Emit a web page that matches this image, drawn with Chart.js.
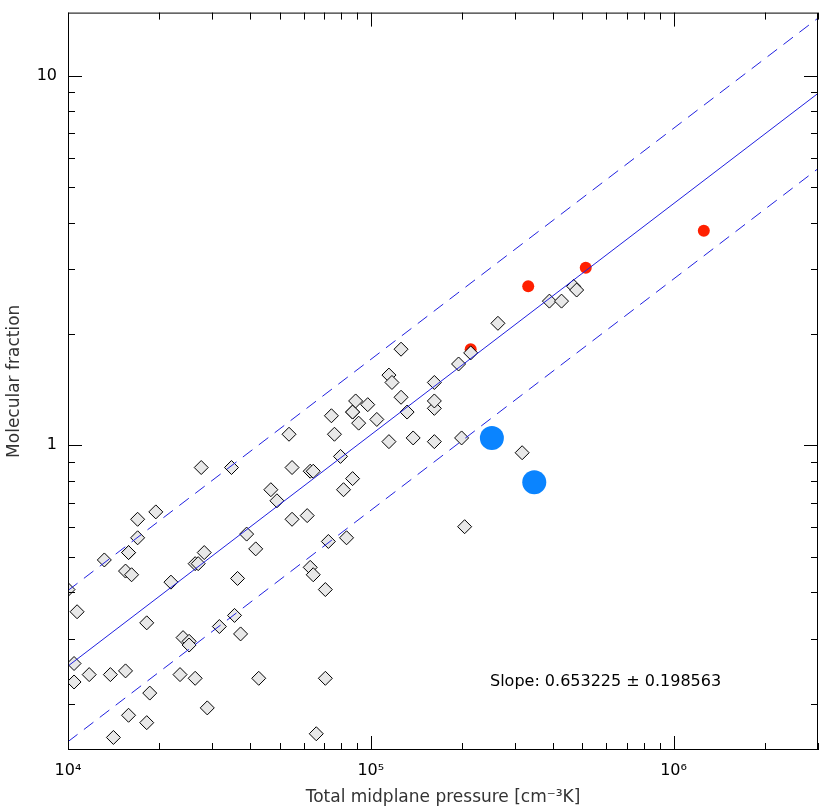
<!DOCTYPE html>
<html><head><meta charset="utf-8">
<script src="https://cdn.jsdelivr.net/npm/chart.js@4"></script>
<style>html,body{margin:0;background:#fff}</style>
</head><body>
<canvas id="c" width="830" height="812"></canvas>
<script>
// log10 of pressure / molecular fraction
const logP = [4.00,4.03,4.02,4.02,4.07,4.12,4.14,4.15,4.19,4.20,4.19,4.20,4.20,4.21,4.23,4.23,4.26,4.26,4.27,4.29,4.34,4.37,4.38,4.40,4.40,4.42,4.42,4.43,4.44,4.45,4.46,4.50,4.54,4.55,4.56,4.57,4.59,4.62,4.63,4.67,4.69,4.73,4.74,4.74,4.79,4.80,4.80,4.81,4.81,4.82,4.85,4.85,4.86,4.87,4.88,4.90,4.91,4.92,4.94,4.94,4.94,4.95,4.96,4.99,5.02,5.06,5.06,5.07,5.10,5.10,5.12,5.14,5.21,5.21,5.21,5.21,5.29,5.30,5.31,5.33,5.42,5.50,5.59,5.63,5.67,5.68];
const logF = [-0.39,-0.45,-0.59,-0.64,-0.62,-0.31,-0.62,-0.79,-0.61,-0.73,-0.34,-0.29,-0.29,-0.35,-0.25,-0.20,-0.75,-0.48,-0.67,-0.18,-0.37,-0.62,-0.52,-0.53,-0.54,-0.32,-0.63,-0.32,-0.06,-0.29,-0.71,-0.49,-0.06,-0.46,-0.36,-0.51,-0.24,-0.28,-0.63,-0.12,-0.15,0.03,-0.20,-0.06,-0.19,-0.33,-0.07,-0.35,-0.07,-0.78,-0.39,-0.63,-0.26,0.08,0.03,-0.03,-0.12,-0.25,-0.09,0.09,0.09,0.12,0.06,0.11,0.07,0.01,0.19,0.17,0.13,0.26,0.09,0.02,0.10,0.12,0.17,0.01,0.22,0.02,-0.22,0.25,0.33,-0.02,0.39,0.39,0.43,0.42];
const redP = [5.33,5.52,5.71,6.10], redF = [0.26,0.43,0.48,0.58];
const blueP = [5.40,5.54], blueF = [0.02,-0.10];
const fitX = [1e4, 3e6], fitY = [0.253, 8.95], fitUp = [0.405, 14.3], fitLo = [0.158, 5.6];
const slopeText = 'Slope: 0.653225 \u00b1 0.198563';

const pts = (a,b,lg) => a.map((v,i)=>({x: lg?10**v:v, y: lg?10**b[i]:b[i]}));
const sup = {4:'\u2074',5:'\u2075',6:'\u2076'};

const ticksIn = {
  id:'ticksIn',
  afterDraw(ch){
    const {ctx, chartArea:a, scales:{x,y}} = ch;
    ctx.save(); ctx.strokeStyle='#000'; ctx.lineWidth=1;
    ctx.strokeRect(a.left+0.5,a.top+0.5,a.right-a.left-1,a.bottom-a.top-1);
    ctx.beginPath();
    for(let e=4;e<=6;e++) for(let m=1;m<10;m++){
      const v=m*10**e; if(v>3e6) continue;
      const px=Math.round(x.getPixelForValue(v))+0.5, L=m==1?14:7;
      ctx.moveTo(px,a.bottom); ctx.lineTo(px,a.bottom-L);
      ctx.moveTo(px,a.top); ctx.lineTo(px,a.top+L);
    }
    for(let e=-1;e<=1;e++) for(let m=1;m<10;m++){
      const v=m*10**e; if(v<0.15||v>14.8) continue;
      const py=Math.round(y.getPixelForValue(v))+0.5, L=m==1?14:7;
      ctx.moveTo(a.left,py); ctx.lineTo(a.left+L,py);
      ctx.moveTo(a.right,py); ctx.lineTo(a.right-L,py);
    }
    ctx.stroke();
    ctx.fillStyle='#000'; ctx.font='16px "DejaVu Sans"';
    ctx.fillText(slopeText, 490, 686);
    ctx.restore();
  }
};

new Chart(document.getElementById('c'), {
  type:'scatter',
  data:{datasets:[
    {data:pts(fitX,fitY), showLine:true, borderColor:'#2020e0', borderWidth:1, pointRadius:0},
    {data:pts(fitX,fitUp), showLine:true, borderColor:'#2020e0', borderWidth:1, borderDash:[12,8], pointRadius:0},
    {data:pts(fitX,fitLo), showLine:true, borderColor:'#2020e0', borderWidth:1, borderDash:[12,8], pointRadius:0},
    {data:pts(logP,logF,true), pointStyle:'rectRot', pointRadius:7, backgroundColor:'#e8e8e8', borderColor:'#000', borderWidth:1},
    {data:pts(redP,redF,true), pointRadius:6, backgroundColor:'#ff2000', borderWidth:0},
    {data:pts(blueP,blueF,true), pointRadius:12, backgroundColor:'#0a84ff', borderWidth:0}
  ]},
  options:{
    responsive:false, animation:false, clip:true,
    layout:{padding:{top:-9,right:-10}},
    plugins:{legend:{display:false}, tooltip:{enabled:false}},
    scales:{
      x:{type:'logarithmic', min:1e4, max:3e6,
        afterFit(s){s.height=62;},
        grid:{display:false}, border:{display:false},
        ticks:{color:'#000', font:{size:16, family:'DejaVu Sans'}, autoSkip:false, maxRotation:0,
          callback:v=>{const e=Math.log10(v); return Math.abs(e-Math.round(e))<1e-6?'10'+sup[Math.round(e)]:'';}},
        title:{display:true, text:'Total midplane pressure [cm\u207b\u00b3K]', color:'#333', font:{size:17, family:'DejaVu Sans'}, padding:{top:0}}},
      y:{type:'logarithmic', min:0.15, max:14.8,
        afterFit(s){s.width=68;},
        grid:{display:false}, border:{display:false},
        ticks:{color:'#000', font:{size:16, family:'DejaVu Sans'}, autoSkip:false,
          callback:v=>(v===1||v===10)?String(v):''},
        title:{display:true, text:'Molecular fraction', color:'#333', font:{size:17, family:'DejaVu Sans'}}}
    }
  },
  plugins:[ticksIn]
});
</script>
</body></html>
